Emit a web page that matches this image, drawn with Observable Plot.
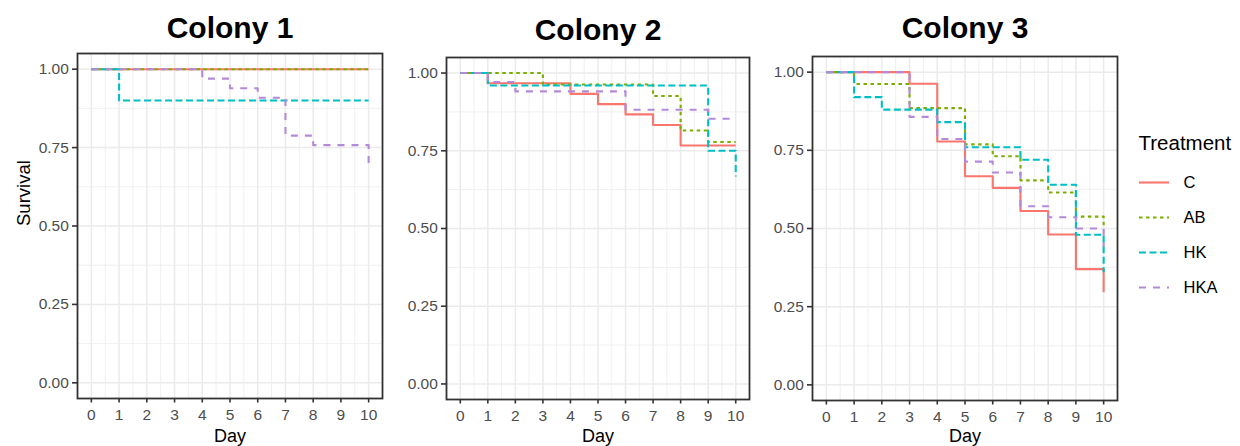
<!DOCTYPE html>
<html>
<head>
<meta charset="utf-8">
<script src="https://cdn.jsdelivr.net/npm/d3@7"></script>
<script src="https://cdn.jsdelivr.net/npm/@observablehq/plot@0.6"></script>
<style>
  body { margin: 0; background: #fff; }
  #chart { position: relative; width: 1240px; height: 446px; overflow: hidden; background: #fff; }
  #chart > svg { position: absolute; top: 0; }
</style>
</head>
<body>
<div id="chart"></div>
<script>
// Treatment groups, their colours and line types
const treatments = ["C", "AB", "HK", "HKA"];
const colors = ["#F8766D", "#7CAE00", "#00BFC4", "#B48AD8"];
const dashes = ["none", "3.5,3.5", "7,3.5", "7,7"];

const colonies = ["Colony 1", "Colony 2", "Colony 3"];
const dayTicks = [0, 1, 2, 3, 4, 5, 6, 7, 8, 9, 10];
const survivalTicks = [0, 0.25, 0.5, 0.75, 1];

// Kaplan-Meier steps: [day, survival after that day]
const colony1 = {
  C:   [[0, 1], [10, 1]],
  AB:  [[0, 1], [10, 1]],
  HK:  [[0, 1], [1, 0.9], [10, 0.9]],
  HKA: [[0, 1], [4, 0.970], [5, 0.939], [6, 0.909], [7, 0.788], [8, 0.758], [10, 0.697]]
};
const colony2 = {
  C:   [[0, 1], [1, 0.967], [4, 0.933], [5, 0.9], [6, 0.867], [7, 0.833], [8, 0.767], [10, 0.767]],
  AB:  [[0, 1], [3, 0.963], [7, 0.926], [8, 0.815], [9, 0.778], [10, 0.778]],
  HK:  [[0, 1], [1, 0.96], [9, 0.75], [10, 0.667]],
  HKA: [[0, 1], [1, 0.971], [2, 0.941], [6, 0.882], [9, 0.853], [10, 0.853]]
};
const colony3 = {
  C:   [[0, 1], [3, 0.963], [4, 0.778], [5, 0.667], [6, 0.630], [7, 0.556], [8, 0.481], [9, 0.370], [10, 0.296]],
  AB:  [[0, 1], [1, 0.962], [3, 0.885], [5, 0.769], [6, 0.731], [7, 0.654], [8, 0.615], [9, 0.538], [10, 0.5]],
  HK:  [[0, 1], [1, 0.92], [2, 0.88], [4, 0.84], [5, 0.76], [7, 0.72], [8, 0.64], [9, 0.48], [10, 0.36]],
  HKA: [[0, 1], [3, 0.857], [4, 0.786], [5, 0.714], [6, 0.679], [7, 0.571], [8, 0.536], [9, 0.5], [10, 0.44]]
};

const FONT = "'Liberation Sans', Arial, Helvetica, sans-serif";
const LINE_W = 2.1;
const chart = document.getElementById("chart");

function panel(title, curves, L) {
  const minorDays = dayTicks.slice(1).map(d => d - 0.5);
  const minorSurv = survivalTicks.slice(1).map(v => v - 0.125);
  const marks = [
    Plot.gridX(minorDays, {stroke: "#ececec", strokeOpacity: 1, strokeWidth: 0.8}),
    Plot.gridY(minorSurv, {stroke: "#ececec", strokeOpacity: 1, strokeWidth: 0.8}),
    Plot.gridX(dayTicks, {stroke: "#ebebeb", strokeOpacity: 1, strokeWidth: 1.5}),
    Plot.gridY(survivalTicks, {stroke: "#ebebeb", strokeOpacity: 1, strokeWidth: 1.5}),
    ...treatments.map((t, i) => Plot.line(curves[t], {
      x: d => d[0], y: d => d[1], curve: "step-after",
      stroke: colors[i], strokeWidth: LINE_W, strokeDasharray: dashes[i],
      strokeLinecap: "butt", strokeLinejoin: "round"
    })),
    Plot.frame({stroke: "#333333", strokeWidth: 1.8}),
    Plot.axisX(dayTicks, {
      tickSize: 4.5, tickPadding: 5.5, stroke: "#333333", strokeWidth: 1.6,
      fill: "#4d4d4d", label: null
    }),
    Plot.axisY(survivalTicks, {
      tickSize: 5, tickPadding: 3.7, tickFormat: d3.format(".2f"),
      stroke: "#333333", strokeWidth: 1.6, fill: "#4d4d4d", label: null
    }),
    Plot.text([title], {
      text: d => d, frameAnchor: "top", lineAnchor: "bottom", dy: L.titleBase - L.mt,
      fontSize: 30, fontWeight: "bold", fill: "#000"
    }),
    Plot.text(["Day"], {
      text: d => d, frameAnchor: "bottom", lineAnchor: "bottom", dy: 441 - (446 - L.mb),
      fontSize: 18, fill: "#000"
    })
  ];
  if (L.ylabel) {
    marks.push(Plot.text(["Survival"], {
      text: d => d, frameAnchor: "left", rotate: -90, dx: 23.4 - L.ml,
      fontSize: 18.5, fill: "#000"
    }));
  }
  const svg = Plot.plot({
    width: L.w, height: 446,
    marginLeft: L.ml, marginRight: L.mr, marginTop: L.mt, marginBottom: L.mb,
    x: {domain: [-0.5, 10.5]},
    y: {domain: [-0.05, 1.05]},
    style: {fontSize: "15.5px", fontFamily: FONT, background: "white", overflow: "visible"},
    marks
  });
  svg.style.left = L.left + "px";
  chart.appendChild(svg);
}

panel(colonies[0], colony1, {left: 0,   w: 400, ml: 77, mr: 18, mt: 53, mb: 48, titleBase: 37, ylabel: true});
panel(colonies[1], colony2, {left: 400, w: 370, ml: 46, mr: 21, mt: 57, mb: 47, titleBase: 39});
panel(colonies[2], colony3, {left: 770, w: 350, ml: 42, mr: 3,  mt: 56, mb: 46, titleBase: 37});

// Legend: line keys with labels
const legend = Plot.plot({
  width: 120, height: 200,
  marginLeft: 0, marginRight: 0, marginTop: 0, marginBottom: 0,
  x: {domain: [0, 120], range: [0, 120], axis: null},
  y: {type: "point", domain: treatments, range: [61, 168.3], padding: 0, axis: null},
  style: {fontFamily: FONT, background: "white", overflow: "visible"},
  marks: [
    Plot.text(["Treatment"], {
      text: d => d, frameAnchor: "top-left", lineAnchor: "bottom", textAnchor: "start",
      dx: 18, dy: 29, fontSize: 20.5, fill: "#000"
    }),
    ...treatments.map((t, i) => Plot.ruleY([t], {
      y: d => d, x1: 19, x2: 49, stroke: colors[i], strokeWidth: LINE_W,
      strokeDasharray: dashes[i]
    })),
    Plot.text(treatments, {
      text: d => d, y: d => d, x: 63, textAnchor: "start", fontSize: 16.5, fill: "#000"
    })
  ]
});
legend.style.left = "1120px";
legend.style.top = "120px";
chart.appendChild(legend);
</script>
</body>
</html>
